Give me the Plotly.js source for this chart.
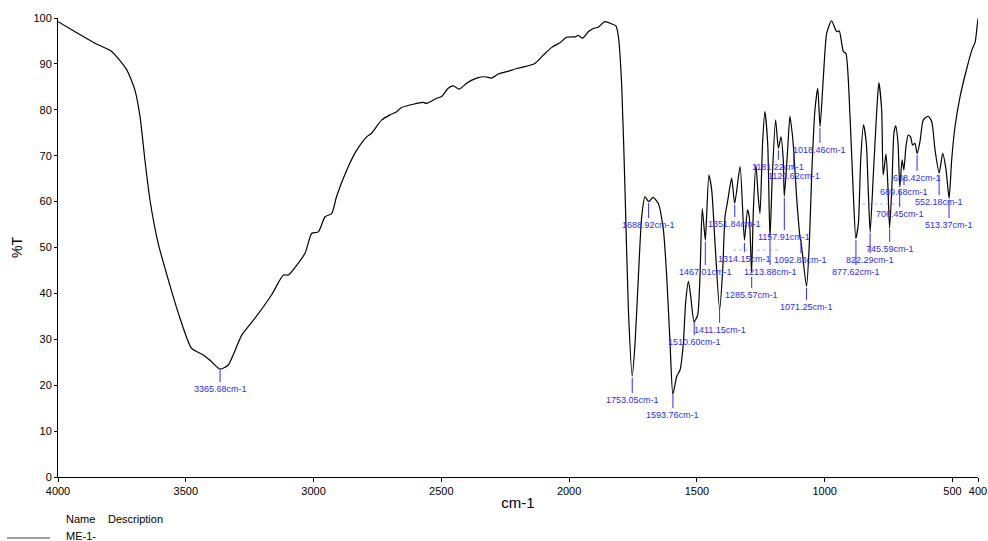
<!DOCTYPE html>
<html>
<head>
<meta charset="utf-8">
<script src="https://cdn.plot.ly/plotly-3.0.1.min.js"></script>
<style>html,body{margin:0;padding:0;background:#fff;}#chart{width:988px;height:541px;}</style>
</head>
<body>
<div id="chart"></div>
<script>
// Spectrum: wavenumber (cm-1) and %T
const wavenumber = [4000,3933,3855,3790,3731,3699,3679,3660,3640,3608,3568,3529,3477,3431,3399,3366,3334,3281,3229,3164,3118,3099,3034,3007,2981,2955,2929,2910,2870,2831,2792,2773,2733,2701,2675,2655,2610,2571,2558,2518,2499,2473,2453,2430,2401,2362,2329,2303,2277,2244,2205,2166,2134,2101,2068,2036,2010,1977,1964,1947,1925,1905,1886,1860,1833,1817,1807,1794,1781,1768,1753,1742,1729,1716,1703,1689,1671,1651,1631,1618,1605,1594,1579,1566,1553,1544,1533,1524,1511,1497,1488,1479,1467,1462,1453,1442,1429,1411,1399,1390,1380,1364,1352,1331,1314,1302,1295,1286,1279,1269,1260,1253,1243,1234,1223,1214,1205,1192,1181,1171,1162,1158,1145,1136,1127,1121,1110,1096,1093,1071,1060,1051,1038,1027,1018,1005,992,973,953,943,927,917,901,888,878,868,859,848,837,829,822,810,796,788,777,771,760,753,746,737,729,722,713,706,697,690,682,673,664,656,647,638,627,614,595,581,568,552,538,525,513,503,490,470,444,424,411,405,400];
const transmittance = [99.2,97.0,94.5,92.7,88.7,84.3,78.5,69.1,60.3,50.9,42.9,35.7,28.0,26.6,25.1,23.5,24.4,30.9,34.6,39.7,44.0,44.0,48.7,53.1,53.4,56.7,57.4,61.1,66.9,71.2,74.1,74.9,77.8,78.9,79.6,80.5,81.2,81.6,81.4,82.5,82.9,84.7,85.2,84.5,85.8,86.9,87.2,86.9,87.8,88.3,89.0,89.5,90.1,91.9,93.6,94.6,95.8,95.9,96.2,95.6,97.0,97.7,98.0,99.2,98.7,98.3,95.9,85.0,62.0,36.4,22.0,29.1,43.6,56.7,61.1,60.0,60.9,59.6,53.8,43.6,29.1,18.0,21.9,23.3,29.1,38.0,42.6,39.3,33.8,35.3,43.6,58.5,51.6,56.7,65.8,62.5,50.9,36.4,45.1,56.7,60.0,65.1,59.6,67.6,51.6,58.2,56.7,44.5,58.2,68.0,61.1,57.4,72.7,79.6,72.7,52.0,65.4,77.8,71.6,74.1,69.1,61.1,71.2,78.6,74.9,71.0,61.1,52.0,51.4,41.5,50.9,65.4,80.0,84.7,76.3,87.2,96.7,99.4,97.0,97.2,92.7,92.3,78.8,61.8,52.0,55.3,69.1,76.7,72.7,61.8,53.4,65.4,80.0,85.9,80.0,65.8,70.4,64.0,54.2,63.2,74.9,76.5,72.7,63.2,69.1,66.9,72.0,74.5,74.1,72.3,72.7,70.5,73.1,77.8,78.6,77.4,71.2,66.2,70.5,66.9,60.7,69.1,76.3,82.9,89.0,93.0,94.8,97.4,99.9];

// Peak labels
const peakWn = [3365.68,1753.05,1688.92,1593.76,1510.60,1467.01,1411.15,1351.84,1314.15,1285.57,1213.88,1181.22,1157.91,1120.62,1092.83,1071.25,1018.46,877.62,822.29,745.59,706.45,689.68,638.42,552.18,513.37];
// marker line top / bottom (%T)
const markTop = [23.3,21.6,59.7,17.9,33.8,51.2,36.4,59.3,51.0,43.6,51.6,71.2,60.8,70.6,51.0,41.2,76.0,51.6,53.2,54.0,62.5,65.4,70.2,65.8,60.3];
const markBot = [20.7,18.3,56.4,15.0,30.9,46.2,33.6,56.6,49.0,41.2,46.2,69.1,53.8,67.1,48.8,38.6,72.8,46.2,48.8,51.2,58.8,63.6,66.7,61.4,56.4];

const xTicks = [4000,3500,3000,2500,2000,1500,1000,500,400];
const yTicks = [0,10,20,30,40,50,60,70,80,90,100];

const FONT = 'Arial, "Liberation Sans", sans-serif';
const BLUE = '#2b2bff';

const shapes = [];
const annotations = [];
peakWn.forEach((w, i) => {
  shapes.push({type:'line', xref:'x', yref:'y', x0:w, x1:w, y0:markTop[i], y1:markBot[i],
               line:{color:BLUE, width:1}});
  annotations.push({x:w, y:markBot[i], xref:'x', yref:'y', text:w.toFixed(2)+'cm-1',
                    showarrow:false, xanchor:'center', yanchor:'top', yshift:0,
                    font:{family:FONT, size:9, color:BLUE}});
});
// faint dotted overlap marks
shapes.push({type:'line', xref:'paper', yref:'paper', x0:(733-58)/920, x1:(780-58)/920, y0:(477-250)/459, y1:(477-250)/459, line:{color:'rgba(80,80,255,0.45)', width:1, dash:'dot'}});
shapes.push({type:'line', xref:'paper', yref:'paper', x0:(862-58)/920, x1:(902-58)/920, y0:(477-204)/459, y1:(477-204)/459, line:{color:'rgba(80,80,255,0.45)', width:1, dash:'dot'}});

// legend block at bottom
shapes.push({type:'line', xref:'paper', yref:'paper', x0:(7-58)/920, x1:(50-58)/920, y0:(477-538)/459, y1:(477-538)/459, line:{color:'#444', width:1}});
annotations.push({xref:'paper', yref:'paper', x:(64-58)/920, y:(477-519)/459, text:'Name', showarrow:false, xanchor:'left', yanchor:'middle', font:{family:FONT, size:11, color:'#000'}});
annotations.push({xref:'paper', yref:'paper', x:(106-58)/920, y:(477-519)/459, text:'Description', showarrow:false, xanchor:'left', yanchor:'middle', font:{family:FONT, size:11, color:'#000'}});
annotations.push({xref:'paper', yref:'paper', x:(64-58)/920, y:(477-536)/459, text:'ME-1-', showarrow:false, xanchor:'left', yanchor:'middle', font:{family:FONT, size:11, color:'#000'}});

const trace = {x:wavenumber, y:transmittance, type:'scatter', mode:'lines',
  line:{color:'#000', width:1.2, shape:'spline', smoothing:0.6}, hoverinfo:'x+y'};

const layout = {
  width:988, height:541,
  margin:{l:58, r:10, t:18, b:64},
  paper_bgcolor:'#fff', plot_bgcolor:'#fff',
  showlegend:false,
  font:{family:FONT, size:11, color:'#000'},
  xaxis:{range:[4000,400], tickvals:xTicks, ticktext:xTicks.map(String),
         showgrid:false, zeroline:false, showline:true, linecolor:'#000', linewidth:1,
         ticks:'outside', ticklen:4, tickcolor:'#000', tickfont:{family:FONT, size:11},
         title:{text:'cm-1', font:{family:FONT, size:15}, standoff:1}},
  yaxis:{range:[0,100], tickvals:yTicks, showgrid:false, zeroline:false, showline:true,
         linecolor:'#000', linewidth:1, ticks:'outside', ticklen:3, tickcolor:'#000',
         tickfont:{family:FONT, size:11},
         title:{text:'%T', font:{family:FONT, size:14}, standoff:7}},
  shapes:shapes, annotations:annotations
};
Plotly.newPlot('chart', [trace], layout, {displayModeBar:false, staticPlot:true});
</script>
</body>
</html>
